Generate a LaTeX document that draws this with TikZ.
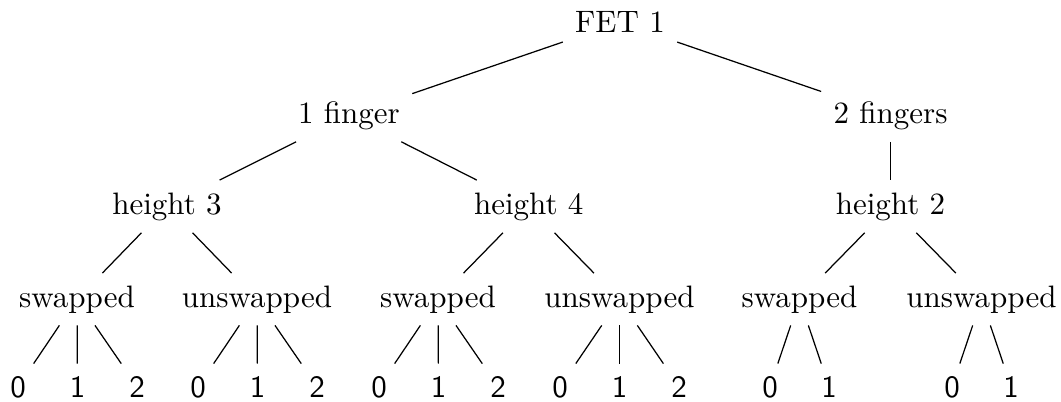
\documentclass[tikz,border=0pt]{standalone}
\begin{document}
\begin{tikzpicture}[x=0.3226pt,y=-0.3226pt,
  lbl/.style={font=\normalsize, anchor=base, inner sep=3.8pt},
  leaf/.style={font=\normalsize\sffamily, anchor=base, inner sep=3.8pt},
  edge/.style={line width=0.4pt}]
\useasboundingbox (0,0) rectangle (1061,401);
% root and first level
\node[lbl] (root) at (620,33) {FET 1};
\node[lbl] (f1) at (349,123) {1 finger};
\node[lbl] (f2) at (890.5,123) {2 fingers};
% heights
\node[lbl] (h3) at (167,214) {height 3};
\node[lbl] (h4) at (528.7,214) {height 4};
\node[lbl] (h2) at (890.5,214) {height 2};
% orientation
\node[lbl] (s3) at (77,307) {swapped};
\node[lbl] (u3) at (257,307) {unswapped};
\node[lbl] (s4) at (438,307) {swapped};
\node[lbl] (u4) at (619.5,307) {unswapped};
\node[lbl] (s2) at (799.5,307) {swapped};
\node[lbl] (u2) at (981.5,307) {unswapped};
% leaves
\node[leaf] (s3a) at (18,397) {0};
\node[leaf] (s3b) at (77.5,397) {1};
\node[leaf] (s3c) at (137,397) {2};
\node[leaf] (u3a) at (198,397) {0};
\node[leaf] (u3b) at (257.5,397) {1};
\node[leaf] (u3c) at (317,397) {2};
\node[leaf] (s4a) at (379,397) {0};
\node[leaf] (s4b) at (438.5,397) {1};
\node[leaf] (s4c) at (498,397) {2};
\node[leaf] (u4a) at (560,397) {0};
\node[leaf] (u4b) at (619.5,397) {1};
\node[leaf] (u4c) at (679,397) {2};
\node[leaf] (s2a) at (770,397) {0};
\node[leaf] (s2b) at (829,397) {1};
\node[leaf] (u2a) at (952,397) {0};
\node[leaf] (u2b) at (1011,397) {1};
% connectors
\draw[edge] (root) -- (f1);
\draw[edge] (root) -- (f2);
\draw[edge] (f1) -- (h3);
\draw[edge] (f1) -- (h4);
\draw[edge] (f2) -- (h2);
\draw[edge] (h3) -- (s3);
\draw[edge] (h3) -- (u3);
\draw[edge] (h4) -- (s4);
\draw[edge] (h4) -- (u4);
\draw[edge] (h2) -- (s2);
\draw[edge] (h2) -- (u2);
\foreach \p/\c in {s3/s3a,s3/s3b,s3/s3c,u3/u3a,u3/u3b,u3/u3c,
                   s4/s4a,s4/s4b,s4/s4c,u4/u4a,u4/u4b,u4/u4c,
                   s2/s2a,s2/s2b,u2/u2a,u2/u2b}
  \draw[edge] (\p) -- (\c);
\end{tikzpicture}
\end{document}
